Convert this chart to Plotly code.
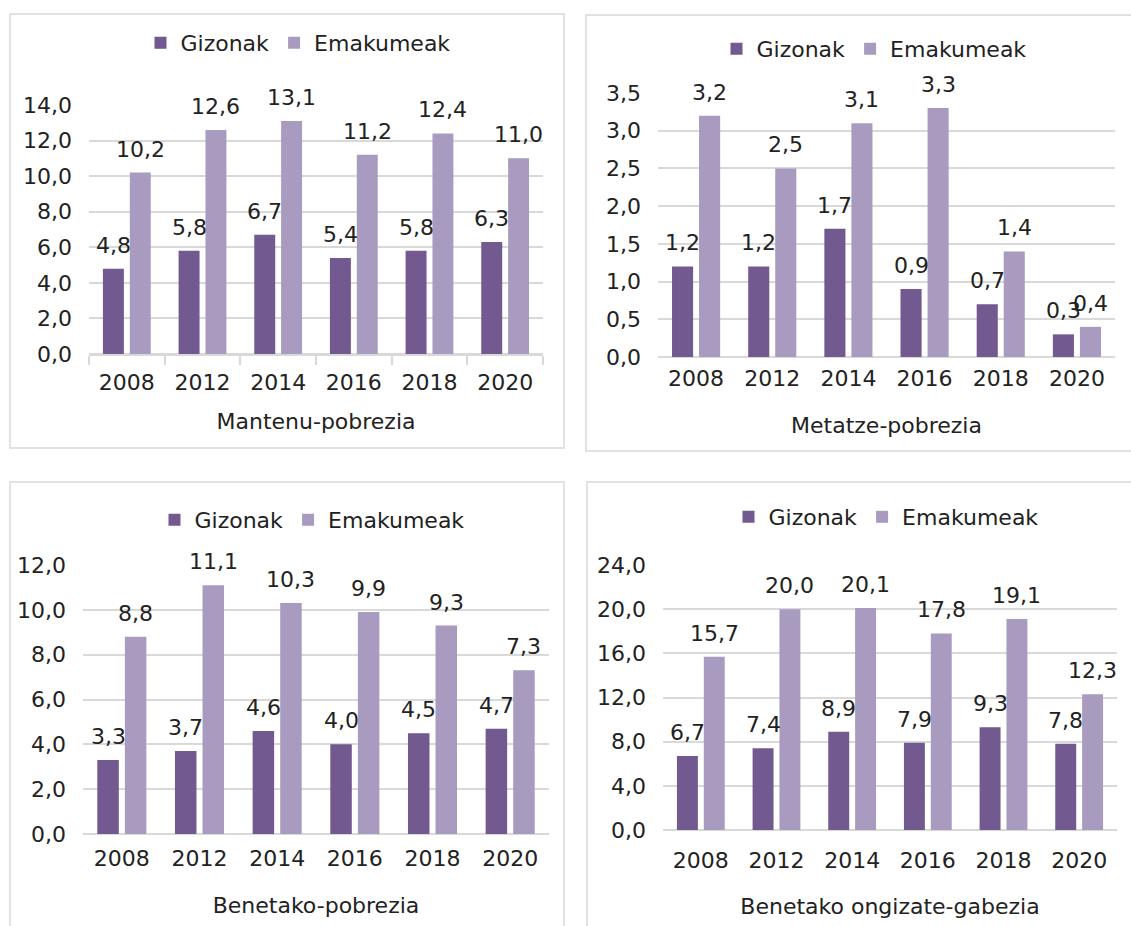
import plotly.graph_objects as go

# ---------------- data ----------------
years = ["2008", "2012", "2014", "2016", "2018", "2020"]
series_names = ["Gizonak", "Emakumeak"]

mantenu_gizonak = [4.8, 5.8, 6.7, 5.4, 5.8, 6.3]
mantenu_emakumeak = [10.2, 12.6, 13.1, 11.2, 12.4, 11.0]
metatze_gizonak = [1.2, 1.2, 1.7, 0.9, 0.7, 0.3]
metatze_emakumeak = [3.2, 2.5, 3.1, 3.3, 1.4, 0.4]
benetako_gizonak = [3.3, 3.7, 4.6, 4.0, 4.5, 4.7]
benetako_emakumeak = [8.8, 11.1, 10.3, 9.9, 9.3, 7.3]
ongizate_gizonak = [6.7, 7.4, 8.9, 7.9, 9.3, 7.8]
ongizate_emakumeak = [15.7, 20.0, 20.1, 17.8, 19.1, 12.3]

panel_titles = ["Mantenu-pobrezia", "Metatze-pobrezia",
                "Benetako-pobrezia", "Benetako ongizate-gabezia"]
y_max = [14, 3.5, 12, 24]
y_dtick = [2, 0.5, 2, 4]

# ---------------- styling / layout ----------------
W, H = 1131, 926
FONT = "DejaVu Sans"
FS = 22
TXT = "#222222"
GRID = "#d9d9d9"
COLORS = ["#72598f", "#a99bbf"]
BARGAP = 0.29
GROUPGAP = 0.22

# pixel geometry for each panel
panels = [
    dict(plot=(89, 543, 105, 354), box=(10, 564, 14, 448), leg=(298, 43),
         ticks=True, xlab_standoff=8, title_standoff=19),
    dict(plot=(658, 1115, 93, 357), box=(586, 1140, 15, 451), leg=(874, 49),
         ticks=False, xlab_standoff=6, title_standoff=27),
    dict(plot=(83, 549, 565, 834), box=(10, 564, 482, 940), leg=(312, 520),
         ticks=False, xlab_standoff=9, title_standoff=27),
    dict(plot=(663, 1117, 565, 830), box=(587, 1140, 482, 940), leg=(886, 517),
         ticks=False, xlab_standoff=15, title_standoff=26),
]

data = [
    (mantenu_gizonak, mantenu_emakumeak),
    (metatze_gizonak, metatze_emakumeak),
    (benetako_gizonak, benetako_emakumeak),
    (ongizate_gizonak, ongizate_emakumeak),
]


def fx(x):
    return x / W


def fy(y):
    return 1 - y / H


fig = go.Figure()
annotations = []
shapes = []
layout_axes = {}
legends = {}

for i, (p, vals) in enumerate(zip(panels, data)):
    n = i + 1
    xa = "x" if n == 1 else f"x{n}"
    ya = "y" if n == 1 else f"y{n}"
    leg = "legend" if n == 1 else f"legend{n}"
    for j, (name, v) in enumerate(zip(series_names, vals)):
        fig.add_trace(go.Bar(
            x=years, y=v, name=name, marker=dict(color=COLORS[j], line=dict(width=0)),
            xaxis=xa, yaxis=ya, legend=leg, showlegend=True,
            hoverinfo="x+y+name",
        ))
    x0, x1, ytop, ybot = p["plot"]
    catw = (x1 - x0) / len(years)
    slot = catw * (1 - BARGAP) / 2
    for j, v in enumerate(vals):
        off = (j - 0.5) * slot
        for k, val in enumerate(v):
            # category axes place annotations by category index
            annotations.append(dict(
                x=k, y=val, xref=xa, yref=ya, text=f"{val:.1f}".replace(".", ","),
                showarrow=False, yanchor="bottom", xanchor="center",
                xshift=off, yshift=9,
                font=dict(family=FONT, size=FS, color=TXT),
            ))
    xkey = "xaxis" if n == 1 else f"xaxis{n}"
    ykey = "yaxis" if n == 1 else f"yaxis{n}"
    xaxis = dict(
        domain=[fx(x0), fx(x1)], anchor=ya, type="category",
        categoryorder="array", categoryarray=years,
        range=[-0.5, len(years) - 0.5], automargin=False,
        showgrid=False, zeroline=False,
        showline=p["ticks"], linecolor=GRID, linewidth=1.5,
        ticks="outside" if p["ticks"] else "", tickson="boundaries",
        ticklen=9, tickcolor=GRID, tickwidth=1.5, tickangle=0,
        ticklabelstandoff=p["xlab_standoff"],
        tickfont=dict(family=FONT, size=FS, color=TXT),
        title=dict(text=panel_titles[i], standoff=p["title_standoff"],
                   font=dict(family=FONT, size=FS, color=TXT)),
        fixedrange=True,
    )
    yaxis = dict(
        domain=[fy(ybot), fy(ytop)], anchor=xa, range=[0, y_max[i]],
        dtick=y_dtick[i], tick0=0, tickformat=".1f", automargin=False,
        showgrid=True, gridcolor=GRID, gridwidth=1.5,
        zeroline=True, zerolinecolor=GRID, zerolinewidth=1.5,
        showline=False, ticks="", ticklabelstandoff=16,
        tickfont=dict(family=FONT, size=FS, color=TXT),
        fixedrange=True,
    )
    layout_axes[xkey] = xaxis
    layout_axes[ykey] = yaxis
    lx, ly = p["leg"]
    legends[leg] = dict(
        orientation="h", x=fx(lx), y=fy(ly), xanchor="center", yanchor="middle",
        xref="paper", yref="paper", bgcolor="rgba(0,0,0,0)",
        font=dict(family=FONT, size=FS, color=TXT),
        itemclick=False, itemdoubleclick=False,
    )
    bx0, bx1, by0, by1 = p["box"]
    shapes.append(dict(
        type="rect", xref="paper", yref="paper",
        x0=fx(bx0), x1=fx(bx1), y0=fy(by1), y1=fy(by0),
        line=dict(color=GRID, width=1.5), fillcolor="rgba(0,0,0,0)", layer="below",
    ))

fig.update_layout(
    width=W, height=H, margin=dict(l=0, r=0, t=0, b=0, autoexpand=False),
    paper_bgcolor="white", plot_bgcolor="white",
    barmode="group", bargap=BARGAP, bargroupgap=GROUPGAP,
    separators=", ",
    font=dict(family=FONT, size=FS, color=TXT),
    annotations=annotations, shapes=shapes,
    **layout_axes, **legends,
)

fig.write_html("out.html", config={"displayModeBar": False},
               post_script="document.body.style.margin='0';")
